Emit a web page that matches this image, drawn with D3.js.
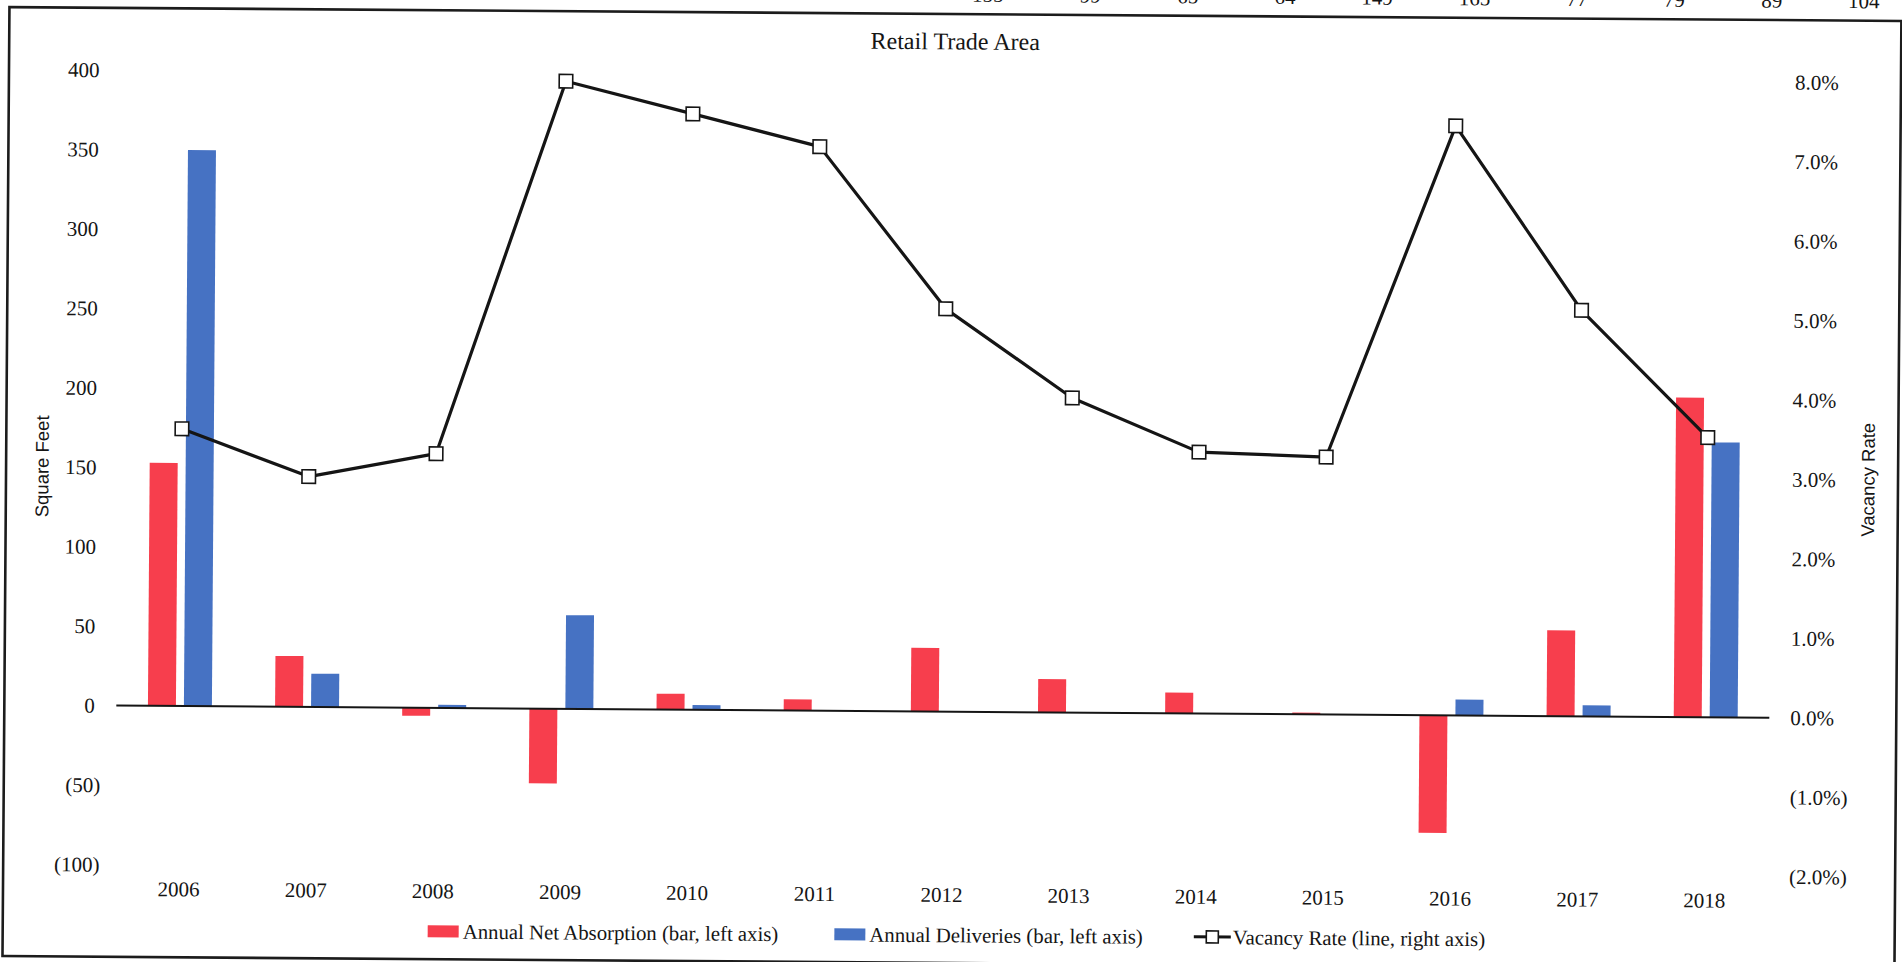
<!DOCTYPE html>
<html>
<head>
<meta charset="utf-8">
<script src="https://cdn.jsdelivr.net/npm/d3@7"></script>
<style>
  html, body { margin: 0; padding: 0; background: #fff; overflow: hidden; }
  svg { display: block; }
</style>
</head>
<body>
<svg id="chart" width="1902" height="962"></svg>
<script>
// Retail trade area: annual absorption / deliveries (sq ft, thousands) and vacancy rate (%)
const years = ["2006", "2007", "2008", "2009", "2010", "2011", "2012",
               "2013", "2014", "2015", "2016", "2017", "2018"];
const netAbsorption = [153, 32, -5, -47, 10, 7, 40, 21, 13, 1, -74, 54, 201];
const deliveries    = [350, 21, 2, 59, 3, 0, 0, 0, 0, 0, 10, 7, 173];
const vacancyRate   = [3.49, 2.90, 3.20, 7.90, 7.50, 7.10, 5.07, 3.96, 3.29, 3.24, 7.42, 5.11, 3.52];
const leftTicks  = [-100, -50, 0, 50, 100, 150, 200, 250, 300, 350, 400];
const rightTicks = [-2, -1, 0, 1, 2, 3, 4, 5, 6, 7, 8];
// last row of the table printed above the chart (only its lower edge shows)
const tableRow = [155, 99, 65, 64, 149, 165, 77, 79, 89, 104];

const legendItems = [
  { key: "abs", label: "Annual Net Absorption (bar, left axis)", gapAfter: 56 },
  { key: "del", label: "Annual Deliveries (bar, left axis)", gapAfter: 51 },
  { key: "vac", label: "Vacancy Rate (line, right axis)", gapAfter: 0 }
];

const W = 1902, H = 962;
const RED = "#F73E4D", BLUE = "#4672C3", INK = "#151515";
const SERIF = "'Liberation Serif', 'Times New Roman', serif";
const SANS = "'Liberation Sans', Arial, sans-serif";
const LABEL_SIZE = 21;

const svg = d3.select("#chart");
svg.append("rect").attr("width", W).attr("height", H).attr("fill", "#fff");

// the printed page sits slightly skewed
const page = svg.append("g").attr("transform", "rotate(0.42 951 481)");

// fragments of the table row above the frame
const tableX = d3.scaleLinear().domain([0, tableRow.length - 1]).range([1000, 1876]);
page.append("g")
  .selectAll("text")
  .data(tableRow)
  .join("text")
  .attr("x", (d, i) => tableX(i))
  .attr("y", 1.5)
  .attr("text-anchor", "end")
  .attr("font-family", SERIF)
  .attr("font-size", LABEL_SIZE)
  .attr("fill", INK)
  .text(d => d);

// outer frame
page.append("rect")
  .attr("x", 6).attr("y", 14)
  .attr("width", 1892).attr("height", 949)
  .attr("fill", "none")
  .attr("stroke", "#1c1c1c")
  .attr("stroke-width", 2.6);

const plotLeft = 118, plotRight = 1771, plotTop = 76.1, plotBottom = 870.6;

const x = d3.scaleBand()
  .domain(years)
  .range([plotLeft, plotRight])
  .paddingInner(0.497)
  .paddingOuter(0.2485);
const xs = d3.scaleBand()
  .domain(["abs", "del"])
  .range([0, x.bandwidth()])
  .paddingInner(0.222);
const y = d3.scaleLinear().domain([-100, 400]).range([plotBottom, plotTop]);
const y2 = d3.scaleLinear().domain([-2, 8]).range([plotBottom, plotTop]);

// title
page.append("text")
  .attr("x", 952).attr("y", 41)
  .attr("dy", "0.35em")
  .attr("text-anchor", "middle")
  .attr("font-family", SERIF)
  .attr("font-size", 24)
  .attr("fill", INK)
  .text("Retail Trade Area");

// bars
const barGroups = page.append("g")
  .selectAll("g")
  .data(years)
  .join("g")
  .attr("transform", d => `translate(${x(d)},0)`);

barGroups.append("rect")
  .attr("x", xs("abs"))
  .attr("width", xs.bandwidth())
  .attr("y", (d, i) => y(Math.max(0, netAbsorption[i])))
  .attr("height", (d, i) => Math.abs(y(netAbsorption[i]) - y(0)))
  .attr("fill", RED);

barGroups.append("rect")
  .attr("x", xs("del"))
  .attr("width", xs.bandwidth())
  .attr("y", (d, i) => y(Math.max(0, deliveries[i])))
  .attr("height", (d, i) => Math.abs(y(deliveries[i]) - y(0)))
  .attr("fill", BLUE);

// zero baseline
page.append("line")
  .attr("x1", plotLeft).attr("x2", plotRight)
  .attr("y1", y(0)).attr("y2", y(0))
  .attr("stroke", INK)
  .attr("stroke-width", 2);

// left axis
const leftAxis = page.append("g")
  .attr("transform", `translate(${plotLeft},0)`)
  .call(d3.axisLeft(y)
    .tickValues(leftTicks)
    .tickSize(0)
    .tickPadding(15.5)
    .tickFormat(v => v < 0 ? `(${Math.abs(v)})` : `${v}`));
leftAxis.select(".domain").remove();
leftAxis.selectAll("text")
  .attr("font-family", SERIF)
  .attr("font-size", LABEL_SIZE)
  .attr("fill", INK)
  .attr("dx", v => v < 0 ? 0 : -6);

// right axis
const rightAxis = page.append("g")
  .attr("transform", `translate(${plotRight},0)`)
  .call(d3.axisRight(y2)
    .tickValues(rightTicks)
    .tickSize(0)
    .tickPadding(21)
    .tickFormat(v => v < 0 ? `(${Math.abs(v).toFixed(1)}%)` : `${v.toFixed(1)}%`));
rightAxis.select(".domain").remove();
rightAxis.selectAll("text")
  .attr("font-family", SERIF)
  .attr("font-size", LABEL_SIZE)
  .attr("fill", INK);

// category labels
const xAxis = page.append("g")
  .attr("transform", `translate(0,${plotBottom})`)
  .call(d3.axisBottom(x).tickSize(0).tickPadding(0));
xAxis.select(".domain").remove();
xAxis.selectAll("text")
  .attr("y", 24)
  .attr("dy", "0.35em")
  .attr("font-family", SERIF)
  .attr("font-size", LABEL_SIZE)
  .attr("fill", INK);

// vacancy rate line
const cx = (d, i) => x(years[i]) + x.bandwidth() / 2;
page.append("path")
  .datum(vacancyRate)
  .attr("d", d3.line().x(cx).y(d => y2(d)))
  .attr("fill", "none")
  .attr("stroke", INK)
  .attr("stroke-width", 3.2)
  .attr("stroke-linejoin", "round");

const mk = 13.5;
page.append("g")
  .selectAll("rect")
  .data(vacancyRate)
  .join("rect")
  .attr("x", (d, i) => cx(d, i) - mk / 2)
  .attr("y", d => y2(d) - mk / 2)
  .attr("width", mk).attr("height", mk)
  .attr("fill", "#fff")
  .attr("stroke", INK)
  .attr("stroke-width", 1.6);

// axis titles
page.append("text")
  .attr("transform", "translate(42,473) rotate(-90)")
  .attr("dy", "0.35em")
  .attr("text-anchor", "middle")
  .attr("font-family", SANS)
  .attr("font-size", 18.5)
  .attr("fill", INK)
  .text("Square Feet");

page.append("text")
  .attr("transform", "translate(1868,473) rotate(-90)")
  .attr("dy", "0.35em")
  .attr("text-anchor", "middle")
  .attr("font-family", SANS)
  .attr("font-size", 18.5)
  .attr("fill", INK)
  .text("Vacancy Rate");

// legend
const legend = page.append("g").attr("transform", "translate(0,935)");
let lx = 431;
legendItems.forEach(item => {
  const g = legend.append("g").attr("transform", `translate(${lx},0)`);
  if (item.key === "vac") {
    g.append("line").attr("x1", 0).attr("x2", 37).attr("y1", 0).attr("y2", 0)
      .attr("stroke", INK).attr("stroke-width", 3);
    g.append("rect").attr("x", 18.5 - 6).attr("y", -6).attr("width", 12).attr("height", 12)
      .attr("fill", "#fff").attr("stroke", INK).attr("stroke-width", 1.6);
  } else {
    g.append("rect").attr("x", 0).attr("y", -6).attr("width", 31).attr("height", 12)
      .attr("fill", item.key === "abs" ? RED : BLUE);
  }
  const tx = item.key === "vac" ? 39 : 35;
  const t = g.append("text")
    .attr("x", tx).attr("y", 0)
    .attr("dy", "0.35em")
    .attr("font-family", SERIF)
    .attr("font-size", 20.8)
    .attr("fill", INK)
    .text(item.label);
  lx += tx + t.node().getComputedTextLength() + item.gapAfter;
});
</script>
</body>
</html>
